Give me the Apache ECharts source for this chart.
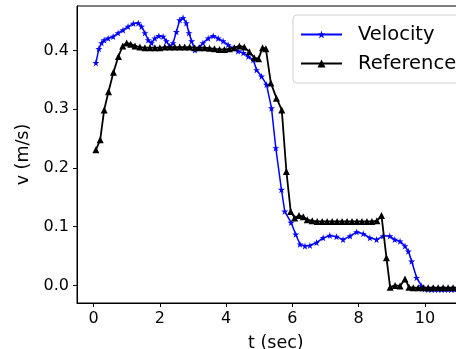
<!DOCTYPE html>
<html>
<head>
<meta charset="utf-8">
<script src="https://cdn.jsdelivr.net/npm/echarts@6/dist/echarts.min.js"></script>
<style>
  html, body { margin: 0; padding: 0; background: #fff; }
  #chart { width: 456px; height: 349px; }
</style>
</head>
<body>
<div id="chart"></div>
<script>
// Velocity (blue, star markers)
const velocityTime = [
  0.07, 0.16, 0.24, 0.32, 0.44, 0.59, 0.74, 0.89, 1.04, 1.2, 1.35, 1.45, 1.55, 1.65, 1.75,
  1.85, 1.97, 2.1, 2.2, 2.3, 2.4, 2.5, 2.6, 2.7, 2.8, 2.88, 2.96, 3.06, 3.18, 3.3, 3.46,
  3.61, 3.76, 3.91, 4.06, 4.21, 4.36, 4.52, 4.67, 4.82, 4.92, 5.07, 5.22, 5.37, 5.5, 5.67,
  5.77, 5.96, 6.1, 6.23, 6.38, 6.53, 6.73, 6.93, 7.13, 7.33, 7.53, 7.74, 7.94, 8.14, 8.34,
  8.54, 8.74, 8.94, 9.09, 9.25, 9.4, 9.5, 9.6, 9.75, 9.9, 10.0, 10.1, 10.2, 10.3, 10.4,
  10.5, 10.6, 10.7, 10.8, 10.9, 11.0, 11.1, 11.2, 11.3, 11.4
];
const velocityValue = [
  0.379, 0.403, 0.413, 0.418, 0.421, 0.424, 0.430, 0.435, 0.441, 0.446, 0.447, 0.441, 0.430, 0.418, 0.413,
  0.421, 0.425, 0.424, 0.416, 0.407, 0.413, 0.432, 0.452, 0.456, 0.447, 0.430, 0.416, 0.401, 0.405, 0.413, 0.421,
  0.425, 0.421, 0.416, 0.410, 0.404, 0.399, 0.396, 0.390, 0.384, 0.367, 0.356, 0.342, 0.302, 0.234, 0.163,
  0.126, 0.107, 0.087, 0.070, 0.067, 0.068, 0.073, 0.081, 0.085, 0.083, 0.078, 0.084, 0.091, 0.088, 0.081,
  0.078, 0.084, 0.084, 0.078, 0.075, 0.067, 0.058, 0.041, 0.013, -0.001, -0.006, -0.007, -0.007, -0.007, -0.007,
  -0.007, -0.007, -0.007, -0.007, -0.007, -0.007, -0.007, -0.007, -0.007, -0.007
];

// Reference (black, triangle markers)
const referenceTime = [
  0.07, 0.2, 0.32, 0.45, 0.6, 0.75, 0.88, 1.0, 1.12, 1.25, 1.4, 1.55, 1.7, 1.85, 2.0,
  2.15, 2.3, 2.45, 2.6, 2.75, 2.9, 3.05, 3.2, 3.35, 3.5, 3.65, 3.8, 3.95, 4.1, 4.25,
  4.4, 4.55, 4.7, 4.85, 4.98, 5.1, 5.2, 5.35, 5.52, 5.68, 5.82, 5.95, 6.07, 6.2, 6.33,
  6.45, 6.6, 6.75, 6.9, 7.05, 7.2, 7.35, 7.5, 7.65, 7.8, 7.95, 8.1, 8.25, 8.4, 8.55,
  8.69, 8.84, 8.95, 9.1, 9.25, 9.4, 9.52, 9.65, 9.8, 9.95, 10.1, 10.25, 10.4, 10.55,
  10.7, 10.85, 11.0, 11.15, 11.3, 11.45
];
const referenceValue = [
  0.231, 0.248, 0.299, 0.330, 0.363, 0.390, 0.408, 0.413, 0.411, 0.408, 0.406, 0.405, 0.405, 0.405, 0.405,
  0.406, 0.406, 0.406, 0.406, 0.406, 0.406, 0.405, 0.405, 0.405, 0.404, 0.403, 0.402, 0.402, 0.403, 0.405,
  0.408, 0.406, 0.398, 0.388, 0.386, 0.405, 0.403, 0.345, 0.319, 0.299, 0.194, 0.126, 0.115, 0.119, 0.117,
  0.112, 0.110, 0.109, 0.109, 0.109, 0.109, 0.109, 0.109, 0.109, 0.109, 0.109, 0.109, 0.109, 0.109, 0.110,
  0.119, 0.047, -0.003, 0.000, -0.001, 0.011, -0.003, -0.004, -0.004, -0.004, -0.004, -0.004, -0.004, -0.004,
  -0.004, -0.004, -0.004, -0.004, -0.004, -0.004
];

const xTicks = [0, 2, 4, 6, 8, 10];
const yTicks = [0, 0.1, 0.2, 0.3, 0.4];

const star = 'path://M50,0 L61.8,35.4 L100,35.4 L69.1,57.3 L80.9,93.3 L50,71.4 L19.1,93.3 L30.9,57.3 L0,35.4 L38.2,35.4 Z';
const font = 'DejaVu Sans';

const zip = (ts, vs) => ts.map((t, i) => [t, vs[i]]);

const chart = echarts.init(document.getElementById('chart'));
chart.setOption({
  animation: false,
  backgroundColor: '#fff',
  textStyle: { fontFamily: font },
  grid: {
    left: 77, top: 6, width: 397.6, height: 297,
    outerBoundsMode: 'none',
    show: true, borderColor: '#000', borderWidth: 1
  },
  legend: {
    orient: 'vertical',
    left: 293, top: 15,
    padding: [9, 20, 9, 7],
    itemWidth: 41, itemHeight: 10, itemGap: 8,
    backgroundColor: 'rgba(255,255,255,0.8)',
    borderColor: '#d0d0d0', borderWidth: 1, borderRadius: 4,
    textStyle: { fontFamily: font, fontSize: 19.5, color: '#000', lineHeight: 21, padding: [0, 0, 0, 11] },
    data: ['Velocity', 'Reference']
  },
  xAxis: {
    type: 'value',
    min: -0.5, max: 11.5,
    name: 't (sec)', nameLocation: 'middle', nameGap: 31,
    nameTextStyle: { fontFamily: font, fontSize: 17.5, color: '#000' },
    axisLine: { show: true, onZero: false, lineStyle: { color: '#000', width: 1 } },
    axisTick: { show: true, length: 4, customValues: xTicks, lineStyle: { color: '#000' } },
    axisLabel: { customValues: xTicks, fontFamily: font, fontSize: 16, color: '#000', margin: 8 },
    splitLine: { show: false }
  },
  yAxis: {
    type: 'value',
    min: -0.03, max: 0.476,
    name: 'v (m/s)', nameLocation: 'middle', nameGap: 42, nameRotate: 90,
    nameTextStyle: { fontFamily: font, fontSize: 17.5, color: '#000' },
    axisLine: { show: true, onZero: false, lineStyle: { color: '#000', width: 1 } },
    axisTick: { show: true, length: 4, customValues: yTicks, lineStyle: { color: '#000' } },
    axisLabel: {
      customValues: yTicks, fontFamily: font, fontSize: 16, color: '#000', margin: 8,
      formatter: v => v.toFixed(1)
    },
    splitLine: { show: false }
  },
  series: [
    {
      name: 'Velocity',
      type: 'line',
      data: zip(velocityTime, velocityValue),
      symbol: star, symbolSize: 7,
      showAllSymbol: true,
      color: '#0000ff',
      lineStyle: { color: '#0000ff', width: 1.5 },
      itemStyle: { color: '#0000ff' },
      z: 2
    },
    {
      name: 'Reference',
      type: 'line',
      data: zip(referenceTime, referenceValue),
      symbol: 'triangle', symbolSize: 7,
      showAllSymbol: true,
      color: '#000',
      lineStyle: { color: '#000', width: 1.8 },
      itemStyle: { color: '#000' },
      z: 3
    }
  ]
});
</script>
</body>
</html>
